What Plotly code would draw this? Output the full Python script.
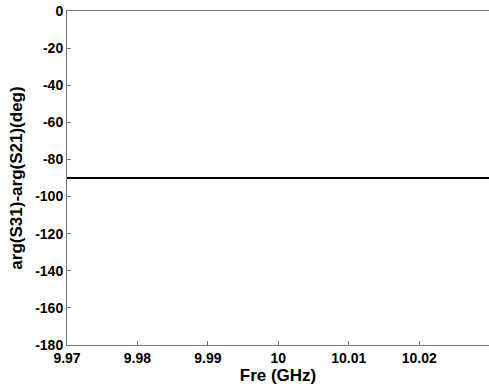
import plotly.graph_objects as go

freq_ghz = [9.97, 9.98, 9.99, 10.0, 10.01, 10.02, 10.03]
phase_diff_deg = [-90.0, -90.0, -90.0, -90.0, -90.0, -90.0, -90.0]
x_ticks = [9.97, 9.98, 9.99, 10.0, 10.01, 10.02]
x_tick_labels = ["9.97", "9.98", "9.99", "10", "10.01", "10.02"]
y_ticks = [0, -20, -40, -60, -80, -100, -120, -140, -160, -180]
y_tick_labels = ["0", "-20", "-40", "-60", "-80", "-100", "-120", "-140", "-160", "-180"]

fig = go.Figure()
fig.add_trace(go.Scatter(x=freq_ghz, y=phase_diff_deg, mode="lines",
                         line=dict(color="black", width=2), showlegend=False))

font = dict(family="Liberation Sans, Arial, sans-serif", size=14, color="black")
axis_common = dict(showgrid=False, zeroline=False, showline=True, linecolor="#777777",
                   linewidth=1, mirror=True, ticks="inside", ticklen=4,
                   tickcolor="#777777", tickfont=dict(font, weight="bold"))

fig.update_layout(
    width=489, height=389,
    margin=dict(l=67, r=0, t=11, b=44),
    paper_bgcolor="white", plot_bgcolor="white",
    font=font,
    xaxis=dict(axis_common, range=[9.97, 10.0299], tickvals=x_ticks, ticktext=x_tick_labels,
               title=dict(text="<b>Fre (GHz)</b>", standoff=4)),
    yaxis=dict(axis_common, range=[-180, 0], tickvals=y_ticks, ticktext=y_tick_labels,
               title=dict(text="<b>arg(S31)-arg(S21)(deg)</b>", standoff=8)),
)
fig.write_html("out.html", config={"displayModeBar": False},
               post_script="document.body.style.margin='0';document.body.style.overflow='hidden';")
